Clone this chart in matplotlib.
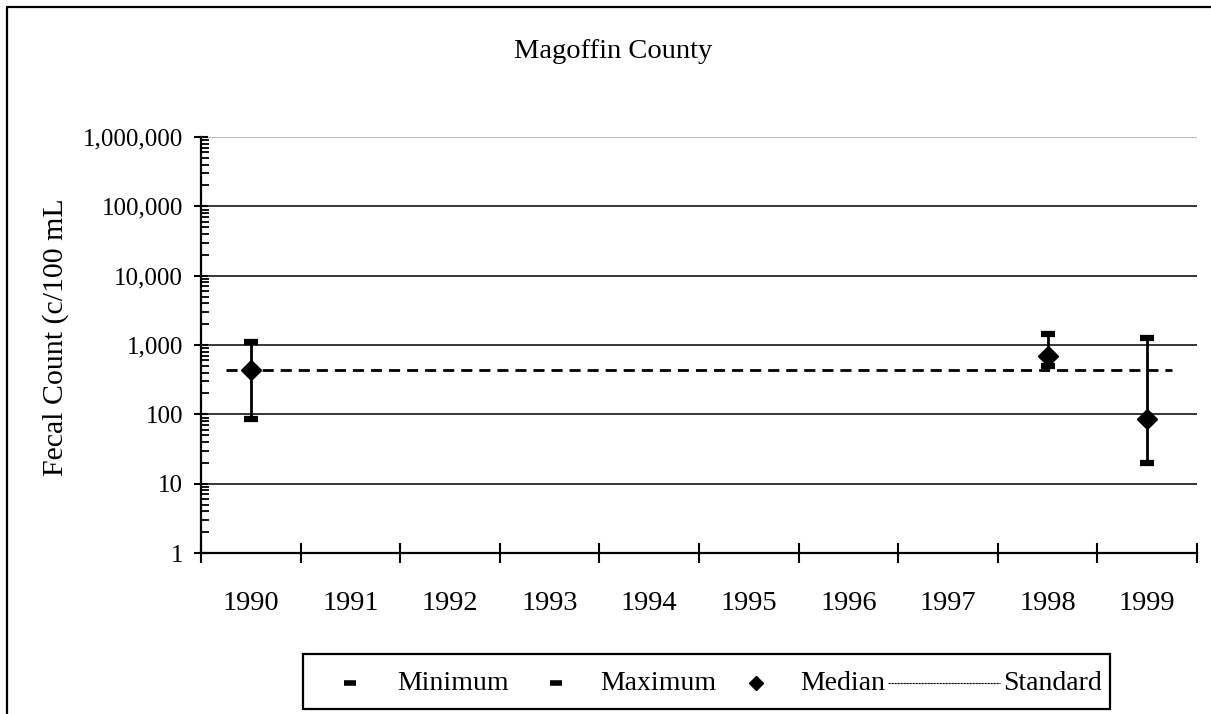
import matplotlib
matplotlib.use("Agg")
import matplotlib.pyplot as plt
from matplotlib.lines import Line2D
from matplotlib.patches import Rectangle
from matplotlib.ticker import FixedLocator, FuncFormatter, LogLocator, NullFormatter

# ---- data ----
years = ["1990", "1991", "1992", "1993", "1994", "1995", "1996", "1997", "1998", "1999"]
minimum = [85, None, None, None, None, None, None, None, 500, 20]
maximum = [1100, None, None, None, None, None, None, None, 1450, 1260]
median = [440, None, None, None, None, None, None, None, 690, 85]
standard = 440
title = "Magoffin County"
ylabel = "Fecal Count (c/100 mL"
legend_labels = ["Minimum", "Maximum", "Median", "Standard"]

plt.rcParams['font.family'] = ['Liberation Serif', 'DejaVu Serif']

W, H = 1211, 714
fig = plt.figure(figsize=(W / 100, H / 100), dpi=100)
ax = fig.add_axes([201 / W, 1 - 553 / H, (1197 - 201) / W, (553 - 137) / H])

xs = list(range(len(years)))
for i in xs:
    if minimum[i] is not None:
        ax.vlines(i, minimum[i], maximum[i], color='black', lw=2, zorder=4)
        ax.plot(i, minimum[i], marker='_', ms=10, mew=4.5, color='black', zorder=5)
        ax.plot(i, maximum[i], marker='_', ms=10, mew=4.5, color='black', zorder=5)
        ax.plot(i, median[i], marker='D', ms=10, color='black', zorder=6)

ax.hlines(standard, -0.25, len(years) - 0.75, colors='black', lw=2,
          linestyles=(0, (4, 2.5)), zorder=3)

ax.set_yscale('log')
ax.set_ylim(1, 1e6)
ax.set_xlim(-0.5, len(years) - 0.5)

# gridlines
for v in [10, 100, 1000, 10000, 100000]:
    ax.axhline(v, color='black', lw=1.1, zorder=1)
ax.axhline(1e6, color='#bbbbbb', lw=0.8, zorder=1)

for s in ['top', 'right']:
    ax.spines[s].set_visible(False)
for s in ['left', 'bottom']:
    ax.spines[s].set_linewidth(1.6)

ax.yaxis.set_major_locator(FixedLocator([1, 10, 100, 1000, 10000, 100000, 1000000]))
ax.yaxis.set_major_formatter(FuncFormatter(lambda v, p: f"{int(round(v)):,}"))
ax.yaxis.set_minor_locator(LogLocator(base=10, subs=range(2, 10), numticks=20))
ax.yaxis.set_minor_formatter(NullFormatter())
ax.tick_params(axis='y', which='major', direction='inout', length=10, width=1.5,
               labelsize=18, pad=8)
ax.tick_params(axis='y', which='minor', direction='in', length=5.5, width=1.3)

ax.set_xticks(xs)
ax.set_xticklabels(years)
ax.set_xticks([x - 0.5 for x in xs] + [len(years) - 0.5], minor=True)
ax.tick_params(axis='x', which='major', length=0, labelsize=20.5, pad=27)
ax.tick_params(axis='x', which='minor', direction='inout', length=15, width=1.5)

fig.text(613 / W, 1 - 51 / H, title, ha='center', va='center', fontsize=20.5)
fig.text(56 / W, 1 - 337 / H, ylabel, ha='center', va='center', rotation=90, fontsize=21.5)

# figure frame (left and top visible)
fig.add_artist(Line2D([7 / W, 7 / W, 1.0], [0, 1 - 7 / H, 1 - 7 / H],
                      transform=fig.transFigure, color='black', lw=1.6))

# legend box
fig.add_artist(Rectangle((303 / W, 1 - 709 / H), (1110 - 303) / W, (709 - 654) / H,
                         transform=fig.transFigure, fill=False, ec='black', lw=1.6))
ly = 1 - 683 / H
fs = 20
fig.add_artist(Line2D([350 / W], [ly], marker='_', ms=8, mew=4, color='black',
                      transform=fig.transFigure))
fig.text(397 / W, ly, legend_labels[0], ha='left', va='center', fontsize=fs)
fig.add_artist(Line2D([556 / W], [ly], marker='_', ms=8, mew=4, color='black',
                      transform=fig.transFigure))
fig.text(600 / W, ly, legend_labels[1], ha='left', va='center', fontsize=fs)
fig.add_artist(Line2D([756 / W], [ly], marker='D', ms=7, color='black',
                      transform=fig.transFigure))
fig.text(800 / W, ly, legend_labels[2], ha='left', va='center', fontsize=fs)
fig.add_artist(Line2D([888 / W, 1000 / W], [ly, ly], color='black', lw=0.8,
                      linestyle=(0, (2, 0.7)), transform=fig.transFigure))
fig.text(1003 / W, ly, legend_labels[3], ha='left', va='center', fontsize=fs)

fig.savefig("out.png", dpi=100)
